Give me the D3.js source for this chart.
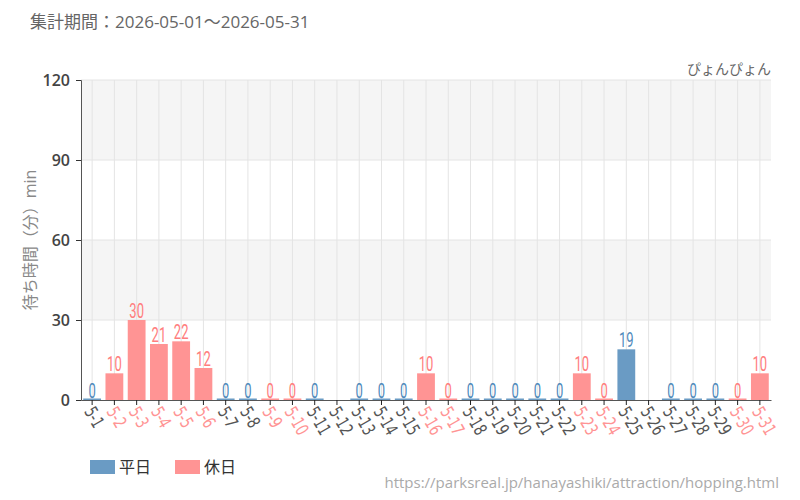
<!DOCTYPE html>
<html>
<head>
<meta charset="utf-8">
<script src="https://cdn.jsdelivr.net/npm/d3@7"></script>
<style>
body { margin: 0; background: #fff; }
text { font-family: "Open Sans", "Noto Sans CJK JP", sans-serif; }
.num { font-family: "Roboto", "Noto Sans", sans-serif; }
.day { font-family: "DejaVu Sans", sans-serif; }
</style>
</head>
<body>
<div id="chart"></div>
<script>
"use strict";
(function() {

const WIDTH = 800
const HEIGHT = 500
const margin = { top: 80, bottom: 100, left: 81, right: 29 }

const BLUE = '#6a9bc4'
const PINK = '#ff9494'
const BLUE_TXT = '#4f8abb'
const PINK_TXT = '#ff7d7d'

// days of May 2026, wait in minutes (null = no data), holiday flag
const days = d3.range(1, 32).map(d => '5-' + d)
const waits = [0, 10, 30, 21, 22, 12, 0, 0, 0, 0, 0, null, 0, 0, 0, 10, 0, 0, 0, 0, 0, 0, 10, 0, 19, null, 0, 0, 0, 0, 10]
const holidays = [0, 1, 1, 1, 1, 1, 0, 0, 1, 1, 0, 0, 0, 0, 0, 1, 1, 0, 0, 0, 0, 0, 1, 1, 0, 0, 0, 0, 0, 1, 1]
const yTicks = [0, 30, 60, 90, 120]

const data = days.map((d, i) => ({ day: d, wait: waits[i], holiday: holidays[i] === 1 }))

const svg = d3.select("#chart").append("svg")
    .attr("width", WIDTH)
    .attr("height", HEIGHT)

let x = d3.scaleBand().domain(days).range([margin.left, WIDTH - margin.right]).paddingInner(0.2).paddingOuter(0.1)
let y = d3.scaleLinear().domain([0, 120]).range([HEIGHT - margin.bottom, margin.top])

// alternating background bands
for (let i = 0; i < yTicks.length - 1; i++) {
    svg.append("rect")
        .attr("x", margin.left)
        .attr("y", y(yTicks[i + 1]))
        .attr("width", WIDTH - margin.right - margin.left)
        .attr("height", y(yTicks[i]) - y(yTicks[i + 1]))
        .attr("fill", i % 2 === 1 ? '#f5f5f5' : '#ffffff')
}

// grid lines
svg.append("g").selectAll("line").data(yTicks.slice(1)).join("line")
    .attr("x1", margin.left).attr("x2", WIDTH - margin.right)
    .attr("y1", d => y(d)).attr("y2", d => y(d))
    .attr("stroke", '#e4e4e4')
const cx = d => x(d) + x.bandwidth() / 2
svg.append("g").selectAll("line").data(days).join("line")
    .attr("x1", cx).attr("x2", cx)
    .attr("y1", y(120)).attr("y2", y(0))
    .attr("stroke", '#e4e4e4')

// bars
const shown = data.filter(d => d.wait !== null)
svg.append("g").selectAll("rect").data(shown).join("rect")
    .attr("x", d => x(d.day))
    .attr("width", x.bandwidth())
    .attr("y", d => Math.min(y(d.wait), y(0) - 1.5))
    .attr("height", d => Math.max(y(0) - y(d.wait), 1.5))
    .attr("fill", d => d.holiday ? PINK : BLUE)

// value labels, squeezed to look condensed
svg.append("g").selectAll("text").data(shown).join("text")
    .attr("class", "num")
    .attr("transform", d => `translate(${cx(d.day)},${y(d.wait) - 2}) scale(0.62,1)`)
    .attr("text-anchor", "middle")
    .attr("font-size", "21px")
    .attr("fill", d => d.holiday ? PINK_TXT : BLUE_TXT)
    .text(d => d.wait)

// axes
const yAxis = svg.append("g")
    .attr("transform", `translate(${margin.left},0)`)
    .call(d3.axisLeft(y).tickValues(yTicks).tickSize(5).tickPadding(6))
yAxis.select(".domain").attr("stroke", '#555')
yAxis.selectAll(".tick line").attr("stroke", '#333')
yAxis.selectAll("text").attr("font-size", "16px").attr("font-weight", "600")
    .attr("fill", '#444').style("font-family", '"Open Sans", sans-serif')

const xAxis = svg.append("g")
    .attr("transform", `translate(0,${y(0)})`)
    .call(d3.axisBottom(x).tickSize(5).tickSizeOuter(0))
xAxis.select(".domain").attr("stroke", '#555')
xAxis.selectAll(".tick line").attr("stroke", '#222')
xAxis.selectAll("text")
    .attr("class", "day")
    .attr("font-size", "18px")
    .attr("text-anchor", "start")
    .attr("dy", "0.35em")
    .attr("transform", "translate(-3,8) rotate(60) scale(0.72,1)")
    .attr("y", 0).attr("x", 0)
    .attr("fill", (d, i) => data[i].holiday ? PINK : '#555')

// labels
svg.append("text").text("集計期間：2026-05-01～2026-05-31")
    .attr("x", 30).attr("y", 28)
    .attr("font-size", "17px").attr("fill", '#666')

svg.append("text").text("ぴょんぴょん")
    .attr("x", WIDTH - margin.right).attr("y", 74)
    .attr("text-anchor", "end")
    .attr("font-size", "14px").attr("fill", '#666')

svg.append("text").text("待ち時間（分）min")
    .attr("transform", `translate(36, ${(y(0) + y(120)) / 2}) rotate(-90)`)
    .attr("text-anchor", "middle")
    .attr("font-size", "16px").attr("fill", '#888')

// legend
const legend = [["平日", BLUE], ["休日", PINK]]
legend.forEach((l, i) => {
    let lx = 90 + i * 85
    svg.append("rect").attr("x", lx).attr("y", 460).attr("width", 25).attr("height", 14).attr("fill", l[1])
    svg.append("text").text(l[0]).attr("x", lx + 29).attr("y", 473)
        .attr("font-size", "16px").attr("fill", '#333')
})

svg.append("text").text("https://parksreal.jp/hanayashiki/attraction/hopping.html")
    .attr("x", 779).attr("y", 488)
    .attr("text-anchor", "end")
    .attr("font-size", "15px").attr("fill", '#aaa')

})();
</script>
</body>
</html>
